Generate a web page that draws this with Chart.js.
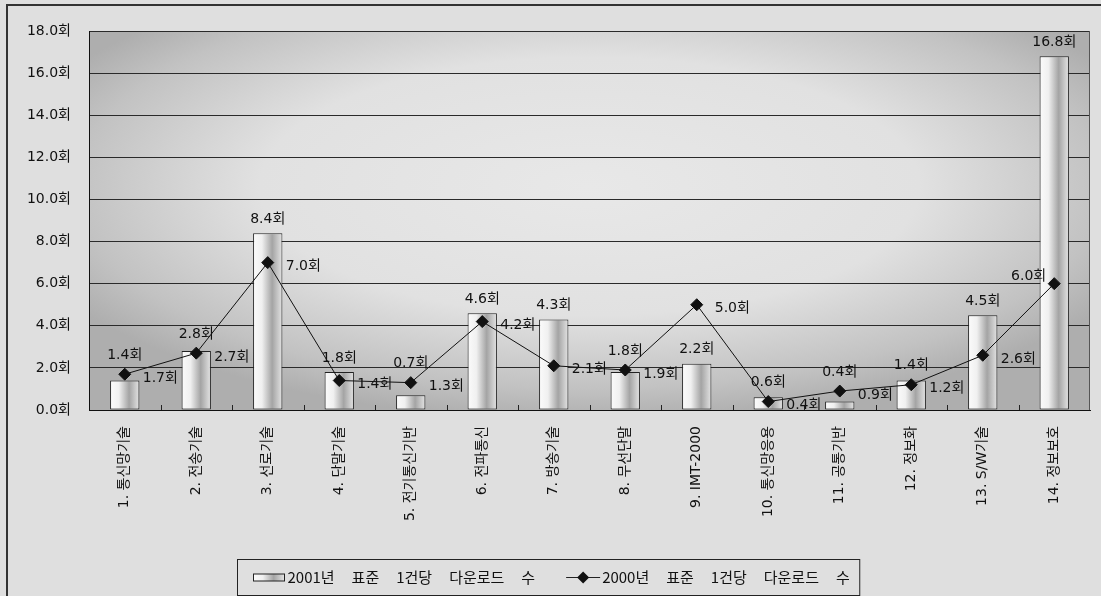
<!DOCTYPE html>
<html>
<head>
<meta charset="utf-8">
<title>표준 1건당 다운로드 수</title>
<script src="https://cdn.jsdelivr.net/npm/chart.js@4.4.1/dist/chart.umd.min.js"></script>
<style>
  html, body { margin: 0; padding: 0; background: #dfdfdf; overflow: hidden; }
  canvas { display: block; }
</style>
</head>
<body>
<canvas id="downloadChart" width="1101" height="596"></canvas>
<script>
const categories = [
    '1. 통신망기술', '2. 전송기술', '3. 선로기술', '4. 단말기술', '5. 전기통신기반',
    '6. 전파통신', '7. 방송기술', '8. 무선단말', '9. IMT-2000', '10. 통신망응용',
    '11. 공통기반', '12. 정보화', '13. S/W기술', '14. 정보보호'
];
const downloads2001 = [1.4, 2.8, 8.4, 1.8, 0.7, 4.6, 4.3, 1.8, 2.2, 0.6, 0.4, 1.4, 4.5, 16.8];
const downloads2000 = [1.7, 2.7, 7.0, 1.4, 1.3, 4.2, 2.1, 1.9, 5.0, 0.4, 0.9, 1.2, 2.6, 6.0];
const seriesNames = ['2001년 표준 1건당 다운로드 수', '2000년 표준 1건당 다운로드 수'];
const yTicks = [0, 2, 4, 6, 8, 10, 12, 14, 16, 18];

const FONT = '"DejaVu Sans", "Noto Sans CJK KR", sans-serif';
const BAR_PCT = 0.41;

function fmt(v) {
    return v.toFixed(1) + '회';
}

// shiny cylinder look for each bar: white on the left, gray towards the right
function barGradient(ctx, x0, x1) {
    const g = ctx.createLinearGradient(x0, 0, x1, 0);
    g.addColorStop(0, '#fbfbfb');
    g.addColorStop(0.3, '#f0f0f0');
    g.addColorStop(0.65, '#a4a4a4');
    g.addColorStop(1, '#e4e4e4');
    return g;
}

// light in the middle, darker towards the edges and corners of the plot
function fillPlotBackground(ctx, a) {
    const cx = a.left + a.width * 0.5;
    const cy = a.top + a.height * 0.41;
    const rx = a.width * 0.6;
    const ry = a.height * 0.62;
    ctx.save();
    ctx.beginPath();
    ctx.rect(a.left, a.top, a.width, a.height);
    ctx.clip();
    ctx.fillStyle = '#aeaeae';
    ctx.fillRect(a.left, a.top, a.width, a.height);
    ctx.translate(cx, cy);
    ctx.scale(rx / ry, 1);
    const g = ctx.createRadialGradient(0, 0, 0, 0, 0, ry);
    g.addColorStop(0, '#e8e8e8');
    g.addColorStop(0.55, '#e1e1e1');
    g.addColorStop(0.86, '#c2c2c2');
    g.addColorStop(1, '#aeaeae');
    ctx.fillStyle = g;
    ctx.fillRect(-cx * 2, -cy * 2, cx * 4, cy * 4);
    ctx.restore();
}

const backdrop = {
    id: 'backdrop',
    beforeDraw(chart) {
        const {ctx, chartArea, width, height} = chart;
        ctx.save();
        ctx.fillStyle = '#dfdfdf';
        ctx.fillRect(0, 0, width, height);
        ctx.strokeStyle = '#333';
        ctx.lineWidth = 2;
        ctx.strokeRect(7, 5, width, height);
        fillPlotBackground(ctx, chartArea);
        ctx.restore();
    }
};

// little tick marks between categories and the right edge of the plot
const plotFrame = {
    id: 'plotFrame',
    beforeDatasetsDraw(chart) {
        const {ctx, chartArea} = chart;
        const step = chartArea.width / categories.length;
        ctx.save();
        ctx.strokeStyle = '#222';
        ctx.lineWidth = 1;
        ctx.beginPath();
        for (let i = 1; i < categories.length; i++) {
            const x = Math.round(chartArea.left + i * step) + 0.5;
            ctx.moveTo(x, chartArea.bottom);
            ctx.lineTo(x, chartArea.bottom - 5);
        }
        ctx.stroke();
        ctx.strokeStyle = '#555';
        ctx.beginPath();
        ctx.moveTo(chartArea.right - 0.5, chartArea.top);
        ctx.lineTo(chartArea.right - 0.5, chartArea.bottom);
        ctx.stroke();
        ctx.restore();
    }
};

const valueLabels = {
    id: 'valueLabels',
    afterDatasetsDraw(chart) {
        const {ctx, chartArea} = chart;
        const bars = chart.getDatasetMeta(1).data;
        const points = chart.getDatasetMeta(0).data;
        ctx.save();
        ctx.font = '14px ' + FONT;
        ctx.fillStyle = '#111';
        ctx.textBaseline = 'middle';
        bars.forEach((bar, i) => {
            let y = bar.y - 14;
            const p = points[i];
            // lift the label clear of the diamond sitting under it
            if (p.y > y - 8) y = Math.min(y, p.y - 19);
            ctx.textAlign = 'center';
            ctx.fillText(fmt(downloads2001[i]), bar.x, y);
        });
        points.forEach((p, i) => {
            const text = fmt(downloads2000[i]);
            const w = ctx.measureText(text).width;
            if (p.x + 18 + w > chartArea.right) {
                ctx.textAlign = 'right';
                ctx.fillText(text, p.x - 8, p.y - 7);
            } else {
                ctx.textAlign = 'left';
                ctx.fillText(text, p.x + 18, p.y + 4);
            }
        });
        ctx.restore();
    }
};

// word-by-word text so the gaps come out as wide as in the old report style
function spacedWidth(ctx, text, gap) {
    const words = text.split(' ');
    return words.reduce((s, w) => s + ctx.measureText(w).width, 0) + gap * (words.length - 1);
}
function drawSpaced(ctx, text, x, y, gap) {
    text.split(' ').forEach(w => {
        ctx.fillText(w, x, y);
        x += ctx.measureText(w).width + gap;
    });
}

const boxLegend = {
    id: 'boxLegend',
    afterDraw(chart) {
        const {ctx} = chart;
        const gap = 17;
        ctx.save();
        ctx.font = '15px "Noto Sans CJK KR", ' + FONT;
        const w0 = spacedWidth(ctx, seriesNames[0], gap);
        const w1 = spacedWidth(ctx, seriesNames[1], gap);
        const total = 16 + 31 + 3 + w0 + 31 + 34 + 2 + w1 + 10;
        const left = Math.round(548 - total / 2) + 0.5;
        const top = 559.5, h = 36;
        const mid = top + h / 2;

        ctx.strokeStyle = '#222';
        ctx.lineWidth = 1;
        ctx.strokeRect(left, top, total, h);

        // bar swatch
        let x = left + 16;
        ctx.fillStyle = barGradient(ctx, x, x + 31);
        ctx.fillRect(x, mid - 3.5, 31, 7);
        ctx.strokeRect(x, mid - 3.5, 31, 7);
        x += 31 + 3;
        ctx.fillStyle = '#111';
        ctx.textAlign = 'left';
        ctx.textBaseline = 'middle';
        drawSpaced(ctx, seriesNames[0], x, mid, gap);
        x += w0 + 31;

        // line swatch with a diamond
        ctx.beginPath();
        ctx.moveTo(x, mid);
        ctx.lineTo(x + 34, mid);
        ctx.stroke();
        const dx = x + 17;
        ctx.beginPath();
        ctx.moveTo(dx, mid - 6);
        ctx.lineTo(dx + 6, mid);
        ctx.lineTo(dx, mid + 6);
        ctx.lineTo(dx - 6, mid);
        ctx.closePath();
        ctx.fill();
        x += 34 + 2;
        drawSpaced(ctx, seriesNames[1], x, mid, gap);
        ctx.restore();
    }
};

const ctx = document.getElementById('downloadChart').getContext('2d');

new Chart(ctx, {
    type: 'bar',
    data: {
        labels: categories,
        datasets: [{
            type: 'line',
            label: seriesNames[1],
            data: downloads2000,
            borderColor: '#111',
            borderWidth: 1,
            pointStyle: 'rectRot',
            pointRadius: 6,
            pointHoverRadius: 6,
            pointBackgroundColor: '#111',
            pointBorderColor: '#111',
            pointBorderWidth: 1,
            tension: 0,
            order: 1
        }, {
            label: seriesNames[0],
            data: downloads2001,
            backgroundColor: (c) => {
                const chart = c.chart;
                const area = chart.chartArea;
                if (!area || !chart.scales.x) return '#eee';
                const x = chart.scales.x.getPixelForValue(c.dataIndex);
                const half = area.width / categories.length * BAR_PCT / 2;
                return barGradient(chart.ctx, x - half, x + half);
            },
            borderColor: '#222',
            borderWidth: 1,
            borderSkipped: false,
            categoryPercentage: 1,
            barPercentage: BAR_PCT,
            order: 2
        }]
    },
    options: {
        responsive: false,
        animation: false,
        layout: {
            padding: { left: 0, top: 31, right: 11, bottom: 0 }
        },
        plugins: {
            legend: { display: false },
            tooltip: { enabled: false }
        },
        scales: {
            x: {
                grid: { drawOnChartArea: false, drawTicks: false },
                border: { color: '#111', width: 1 },
                ticks: {
                    color: '#111',
                    font: { family: FONT, size: 14 },
                    minRotation: 90,
                    maxRotation: 90,
                    autoSkip: false,
                    padding: 16
                },
                afterFit(scale) {
                    scale.height = 186;
                }
            },
            y: {
                min: yTicks[0],
                max: yTicks[yTicks.length - 1],
                afterBuildTicks(scale) {
                    scale.ticks = yTicks.map(v => ({ value: v }));
                },
                grid: { color: '#2a2a2a', drawTicks: false },
                border: { color: '#111', width: 1 },
                ticks: {
                    color: '#111',
                    font: { family: FONT, size: 14 },
                    padding: 18,
                    callback: (v) => fmt(v)
                },
                afterFit(scale) {
                    scale.width = 89;
                }
            }
        }
    },
    plugins: [backdrop, plotFrame, valueLabels, boxLegend]
});
</script>
</body>
</html>
